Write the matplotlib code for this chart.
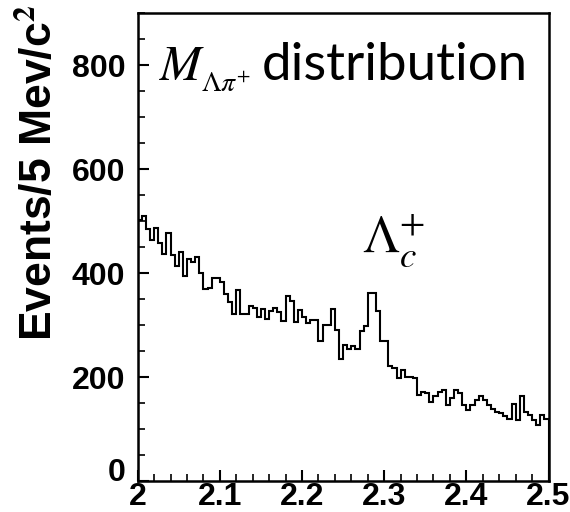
import numpy as np
import matplotlib.pyplot as plt
from matplotlib.transforms import ScaledTranslation

# invariant mass histogram, 5 MeV bins from 2.0 to 2.5 GeV
bin_lo = 2.0
bin_hi = 2.5
counts = [502, 510, 484, 464, 486, 458, 437, 477, 434, 413,
          440, 395, 428, 422, 432, 400, 370, 372, 391, 391,
          383, 359, 345, 322, 368, 322, 322, 337, 333, 316,
          331, 311, 328, 333, 325, 308, 356, 346, 306, 329,
          316, 305, 309, 309, 269, 300, 300, 331, 290, 235,
          261, 254, 260, 255, 289, 299, 362, 362, 327, 270,
          269, 221, 217, 198, 214, 201, 200, 198, 166, 172,
          169, 153, 164, 171, 175, 147, 160, 176, 169, 146,
          137, 146, 156, 164, 156, 146, 138, 133, 130, 125,
          119, 148, 117, 164, 132, 127, 117, 108, 127, 119]
xticks = [2.0, 2.1, 2.2, 2.3, 2.4, 2.5]
xtick_labels = ['2', '2.1', '2.2', '2.3', '2.4', '2.5']
yticks = [0, 200, 400, 600, 800]

plt.rcParams['mathtext.fontset'] = 'stix'

fig = plt.figure(figsize=(5.7, 5.12), dpi=100)
ax = fig.add_axes([0.2416, 0.0605, 0.7207, 0.9135])

edges = np.linspace(bin_lo, bin_hi, len(counts) + 1)
ax.stairs(counts, edges, color='black', linewidth=1.5)

ax.set_xlim(bin_lo, bin_hi)
ax.set_ylim(0, 900)
ax.set_xticks(xticks)
ax.set_xticklabels(xtick_labels)
ax.set_xticks(np.arange(2.0, 2.5001, 0.02), minor=True)
ax.set_yticks(yticks)
ax.set_yticks(np.arange(0, 901, 50), minor=True)
for lab in ax.get_xticklabels() + ax.get_yticklabels():
    lab.set_fontfamily('Liberation Sans')
    lab.set_fontweight('bold')
    lab.set_fontsize(23)
ax.tick_params(which='major', direction='in', length=8, width=1.5)
ax.tick_params(which='minor', direction='in', length=5, width=1.2)
ax.tick_params(axis='y', which='major', pad=9)
ax.tick_params(axis='x', which='major', pad=1)
for sp in ax.spines.values():
    sp.set_linewidth(1.8)

# lift the y "0" so it doesn't collide with the x "2"
zero_lab = ax.get_yticklabels()[0]
zero_lab.set_transform(zero_lab.get_transform() +
                       ScaledTranslation(0, 8 / 72, fig.dpi_scale_trans))

ax.set_ylabel('Events/5 Mev/c$^\\mathbf{2}$', family='Liberation Sans',
              fontweight='bold', fontsize=32)
ax.yaxis.set_label_coords(-0.186, 0.66)

ax.text(0.052, 0.857, '$M$', transform=ax.transAxes,
        fontsize=36, ha='left', va='baseline')
ax.text(0.153, 0.832, '$\\Lambda\\pi^{+}$', transform=ax.transAxes,
        fontsize=20, ha='left', va='baseline')
ax.text(0.3026, 0.857, 'distribution', transform=ax.transAxes,
        family='Lato', fontsize=38, ha='left', va='baseline')
ax.text(0.546, 0.489, '$\\Lambda_c^{+}$', transform=ax.transAxes,
        fontsize=38, ha='left', va='baseline')

fig.savefig('out.png', dpi=100)
